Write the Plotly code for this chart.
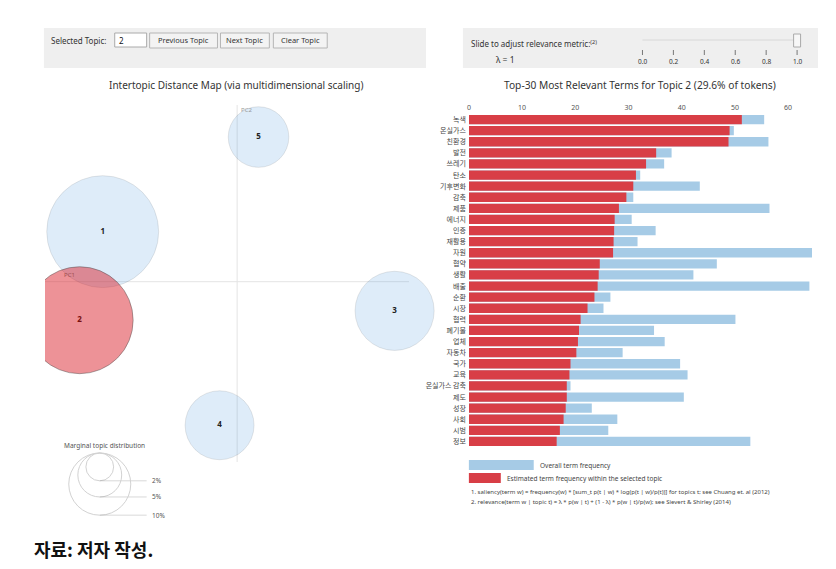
import math
import plotly.graph_objects as go

W, H = 836, 569

# ---------------- data ----------------
terms = ["녹색", "온실가스", "친환경", "발전", "쓰레기", "탄소", "기후변화", "감축", "제품", "에너지",
         "인증", "재활용", "자원", "협약", "생활", "배출", "순환", "시장", "협력", "폐기물",
         "업체", "자동차", "국가", "교육", "온실가스 감축", "제도", "성장", "사회", "시범", "정보"]
topic_freq = [51.3, 49.0, 48.8, 35.2, 33.3, 31.4, 30.9, 29.6, 28.2, 27.4,
              27.3, 27.2, 27.1, 24.6, 24.4, 24.2, 23.6, 22.3, 21.0, 20.7,
              20.5, 20.2, 19.1, 18.9, 18.4, 18.4, 18.2, 17.8, 17.1, 16.5]
overall_freq = [55.5, 49.8, 56.3, 38.1, 36.7, 32.2, 43.4, 30.9, 56.5, 30.6,
                35.1, 31.7, 64.5, 46.6, 42.2, 64.0, 26.6, 25.3, 50.1, 34.8,
                36.8, 28.9, 39.7, 41.1, 19.1, 40.4, 23.1, 27.9, 26.2, 52.9]

topics = ["1", "2", "3", "4", "5"]
pc1 = [-0.245, -0.287, 0.287, -0.032, 0.039]
pc2 = [0.091, -0.070, -0.053, -0.261, 0.263]
marginal = [32.4, 29.6, 16.2, 12.3, 9.5]   # % of tokens
selected_topic = "2"
legend_pct = [2, 5, 10]
slider_ticks = [0.0, 0.2, 0.4, 0.6, 0.8, 1.0]
lam = 1

# ---------------- helpers ----------------
def fx(p):
    return p / W

def fy(p):
    return 1 - p / H

FONT = "Noto Sans, Noto Sans CJK KR, sans-serif"
K = 9.83  # px radius per sqrt(%)
SCALE = 550.0  # px per MDS unit
OX, OY = 235.7, 281.7
BLUE_BAR = "rgb(166,203,230)"
RED_BAR = "rgb(216,62,70)"

fig = go.Figure()

# ---------------- MDS plot ----------------
unsel = [i for i, t in enumerate(topics) if t != selected_topic]
sel = [i for i, t in enumerate(topics) if t == selected_topic]

fig.add_trace(go.Scatter(
    x=[pc1[i] for i in unsel], y=[pc2[i] for i in unsel], mode="markers",
    marker=dict(size=[2 * K * math.sqrt(marginal[i]) for i in unsel], sizemode="diameter",
                color="rgba(40,130,215,0.21)", line=dict(color="rgba(0,0,0,0.13)", width=1)),
    xaxis="x2", yaxis="y2", hoverinfo="skip", showlegend=False))
fig.add_trace(go.Scatter(
    x=[pc1[i] for i in sel], y=[pc2[i] for i in sel], mode="markers",
    marker=dict(size=[2 * K * math.sqrt(marginal[i]) for i in sel], sizemode="diameter",
                color="rgba(218,28,38,0.68)", line=dict(color="rgba(0,0,0,0.45)", width=1)),
    xaxis="x2", yaxis="y2", hoverinfo="skip", showlegend=False))
fig.add_trace(go.Scatter(
    x=pc1, y=pc2, mode="text", text=topics,
    textfont=dict(size=8, color=["#222" if t != selected_topic else "#7a1010" for t in topics],
                  family=FONT, weight="bold"),
    xaxis="x2", yaxis="y2", hoverinfo="skip", showlegend=False))

# ---------------- bar chart ----------------
fig.add_trace(go.Bar(
    x=overall_freq, y=terms, orientation="h", marker=dict(color=BLUE_BAR, line=dict(width=0)),
    xaxis="x", yaxis="y", hoverinfo="skip", showlegend=False))
fig.add_trace(go.Bar(
    x=topic_freq, y=terms, orientation="h", marker=dict(color=RED_BAR, line=dict(width=0)),
    xaxis="x", yaxis="y", hoverinfo="skip", showlegend=False))

shapes = []
ann = []

# control boxes
shapes.append(dict(type="rect", xref="paper", yref="paper", x0=fx(42), x1=fx(425), y0=fy(68), y1=fy(28),
                   fillcolor="#efefef", line=dict(width=0), layer="below"))
shapes.append(dict(type="rect", xref="paper", yref="paper", x0=fx(462), x1=fx(818), y0=fy(68), y1=fy(28),
                   fillcolor="#efefef", line=dict(width=0), layer="below"))

ann.append(dict(x=fx(47), y=fy(40), xref="paper", yref="paper", text="Selected Topic:", showarrow=False,
                xanchor="left", yanchor="middle", font=dict(size=8, color="#333", family=FONT)))
shapes.append(dict(type="rect", xref="paper", yref="paper", x0=fx(113), x1=fx(145), y0=fy(47), y1=fy(33),
                   fillcolor="white", line=dict(color="#aaaaaa", width=1)))
ann.append(dict(x=fx(115), y=fy(40), xref="paper", yref="paper", text=selected_topic, showarrow=False,
                xanchor="left", yanchor="middle", font=dict(size=8, color="#111", family=FONT)))
for label, x0, x1 in [("Previous Topic", 148, 216), ("Next Topic", 219, 268), ("Clear Topic", 272, 326)]:
    shapes.append(dict(type="rect", xref="paper", yref="paper", x0=fx(x0), x1=fx(x1), y0=fy(48), y1=fy(33),
                       fillcolor="#f3f3f3", line=dict(color="#b5b5b5", width=1)))
    ann.append(dict(x=fx((x0 + x1) / 2), y=fy(40.5), xref="paper", yref="paper", text=label, showarrow=False,
                    xanchor="center", yanchor="middle", font=dict(size=7.5, color="#333", family=FONT)))

ann.append(dict(x=fx(468), y=fy(43), xref="paper", yref="paper",
                text="Slide to adjust relevance metric:<sup>(2)</sup>", showarrow=False,
                xanchor="left", yanchor="middle", font=dict(size=8, color="#333", family=FONT)))
ann.append(dict(x=fx(505), y=fy(59), xref="paper", yref="paper", text="λ = %d" % lam, showarrow=False,
                xanchor="center", yanchor="middle", font=dict(size=8.5, color="#333", family=FONT)))
sx0, sx1 = 642, 797
shapes.append(dict(type="line", xref="paper", yref="paper", x0=fx(sx0), x1=fx(sx1), y0=fy(40), y1=fy(40),
                   line=dict(color="#d8d8d8", width=1)))
for v in slider_ticks:
    xv = sx0 + (sx1 - sx0) * v
    shapes.append(dict(type="line", xref="paper", yref="paper", x0=fx(xv), x1=fx(xv), y0=fy(50), y1=fy(55),
                       line=dict(color="#777", width=1)))
    ann.append(dict(x=fx(xv), y=fy(61), xref="paper", yref="paper", text="%.1f" % v, showarrow=False,
                    xanchor="center", yanchor="middle", font=dict(size=6.5, color="#333", family=FONT)))
hx = sx0 + (sx1 - sx0) * lam
shapes.append(dict(type="rect", xref="paper", yref="paper", x0=fx(hx - 3.5), x1=fx(hx + 3.5), y0=fy(47), y1=fy(34),
                   fillcolor="#f7f7f7", line=dict(color="#aaaaaa", width=1)))

# titles
ann.append(dict(x=fx(235), y=fy(85), xref="paper", yref="paper",
                text="Intertopic Distance Map (via multidimensional scaling)", showarrow=False,
                xanchor="center", yanchor="middle", font=dict(size=10, color="#333", family=FONT)))
top_share = marginal[topics.index(selected_topic)]
ann.append(dict(x=fx(640), y=fy(85), xref="paper", yref="paper",
                text="Top-30 Most Relevant Terms for Topic %s (%.1f%% of tokens)" % (selected_topic, top_share),
                showarrow=False, xanchor="center", yanchor="middle",
                font=dict(size=10.2, color="#333", family=FONT)))

# MDS axes lines
shapes.append(dict(type="line", xref="x2", yref="y2", x0=(43 - OX) / SCALE, x1=(408 - OX) / SCALE, y0=0, y1=0,
                   line=dict(color="#e4e4e4", width=1), layer="below"))
shapes.append(dict(type="line", xref="x2", yref="y2", x0=0, x1=0, y0=(OY - 105) / SCALE, y1=(OY - 462) / SCALE,
                   line=dict(color="#e4e4e4", width=1), layer="below"))
ann.append(dict(x=fx(68), y=fy(275), xref="paper", yref="paper", text="PC1", showarrow=False,
                xanchor="center", yanchor="middle", font=dict(size=6, color="#a05050", family=FONT)))
ann.append(dict(x=fx(245), y=fy(110), xref="paper", yref="paper", text="PC2", showarrow=False,
                xanchor="center", yanchor="middle", font=dict(size=6, color="#999", family=FONT)))

# marginal topic distribution legend
ann.append(dict(x=fx(103), y=fy(445), xref="paper", yref="paper", text="Marginal topic distribution",
                showarrow=False, xanchor="center", yanchor="middle", font=dict(size=6.5, color="#555", family=FONT)))
lcx, ltop, lx2 = 98, 453, 145
for p in legend_pct:
    r = K * math.sqrt(p)
    shapes.append(dict(type="circle", xref="paper", yref="paper", x0=fx(lcx - r), x1=fx(lcx + r),
                       y0=fy(ltop + 2 * r), y1=fy(ltop), line=dict(color="#d2d2d2", width=1)))
    shapes.append(dict(type="line", xref="paper", yref="paper", x0=fx(lcx), x1=fx(lx2),
                       y0=fy(ltop + 2 * r), y1=fy(ltop + 2 * r), line=dict(color="rgba(128,128,128,0.3)", width=1)))
    ann.append(dict(x=fx(lx2 + 3), y=fy(ltop + 2 * r), xref="paper", yref="paper", text="%d%%" % p,
                    showarrow=False, xanchor="left", yanchor="middle",
                    font=dict(size=6.5, color="#555", family=FONT)))

# bar legend
shapes.append(dict(type="rect", xref="paper", yref="paper", x0=fx(468), x1=fx(533), y0=fy(470), y1=fy(460),
                   fillcolor=BLUE_BAR, line=dict(width=0)))
ann.append(dict(x=fx(537), y=fy(465), xref="paper", yref="paper", text="Overall term frequency", showarrow=False,
                xanchor="left", yanchor="middle", font=dict(size=6.5, color="#444", family=FONT)))
shapes.append(dict(type="rect", xref="paper", yref="paper", x0=fx(468), x1=fx(500), y0=fy(483), y1=fy(473),
                   fillcolor=RED_BAR, line=dict(width=0)))
ann.append(dict(x=fx(504), y=fy(478), xref="paper", yref="paper",
                text="Estimated term frequency within the selected topic", showarrow=False,
                xanchor="left", yanchor="middle", font=dict(size=6.5, color="#444", family=FONT)))
ann.append(dict(x=fx(468), y=fy(492), xref="paper", yref="paper",
                text="1. saliency(term w) = frequency(w) * [sum_t p(t | w) * log(p(t | w)/p(t))] for topics t; see Chuang et. al (2012)",
                showarrow=False, xanchor="left", yanchor="middle", font=dict(size=6, color="#444", family=FONT)))
ann.append(dict(x=fx(468), y=fy(502), xref="paper", yref="paper",
                text="2. relevance(term w | topic t) = λ * p(w | t) + (1 - λ) * p(w | t)/p(w); see Sievert & Shirley (2014)",
                showarrow=False, xanchor="left", yanchor="middle", font=dict(size=6, color="#444", family=FONT)))

# source note
ann.append(dict(x=fx(30), y=fy(549), xref="paper", yref="paper", text="<b>자료: 저자 작성.</b>", showarrow=False,
                xanchor="left", yanchor="middle", font=dict(size=18, color="#111", family="Noto Sans CJK KR")))

fig.update_layout(
    width=W, height=H, margin=dict(l=0, r=0, t=0, b=0),
    paper_bgcolor="white", plot_bgcolor="rgba(0,0,0,0)",
    barmode="overlay", bargap=0.16,
    font=dict(family=FONT),
    shapes=shapes, annotations=ann,
    xaxis=dict(domain=[fx(468), fx(812)], range=[0, 64.5], side="top", anchor="y",
               tickvals=[0, 10, 20, 30, 40, 50, 60], tickfont=dict(size=7, color="#555"),
               showgrid=False, zeroline=False, showline=False, ticks="", ticklabelstandoff=2),
    yaxis=dict(domain=[fy(447), fy(114)], anchor="x", categoryorder="array", categoryarray=terms,
               autorange="reversed", tickfont=dict(size=7, color="#444", family="Noto Sans CJK KR"),
               showgrid=False, zeroline=False, showline=False, ticks="", ticklabelstandoff=2),
    xaxis2=dict(domain=[fx(43), fx(440)], range=[(43 - OX) / SCALE, (440 - OX) / SCALE], anchor="y2",
                visible=False),
    yaxis2=dict(domain=[fy(465), fy(100)], range=[(OY - 465) / SCALE, (OY - 100) / SCALE], anchor="x2",
                visible=False),
)

fig.write_html("out.html", config={"displayModeBar": False},
               post_script="document.body.style.margin='0';document.body.style.overflow='hidden';")
